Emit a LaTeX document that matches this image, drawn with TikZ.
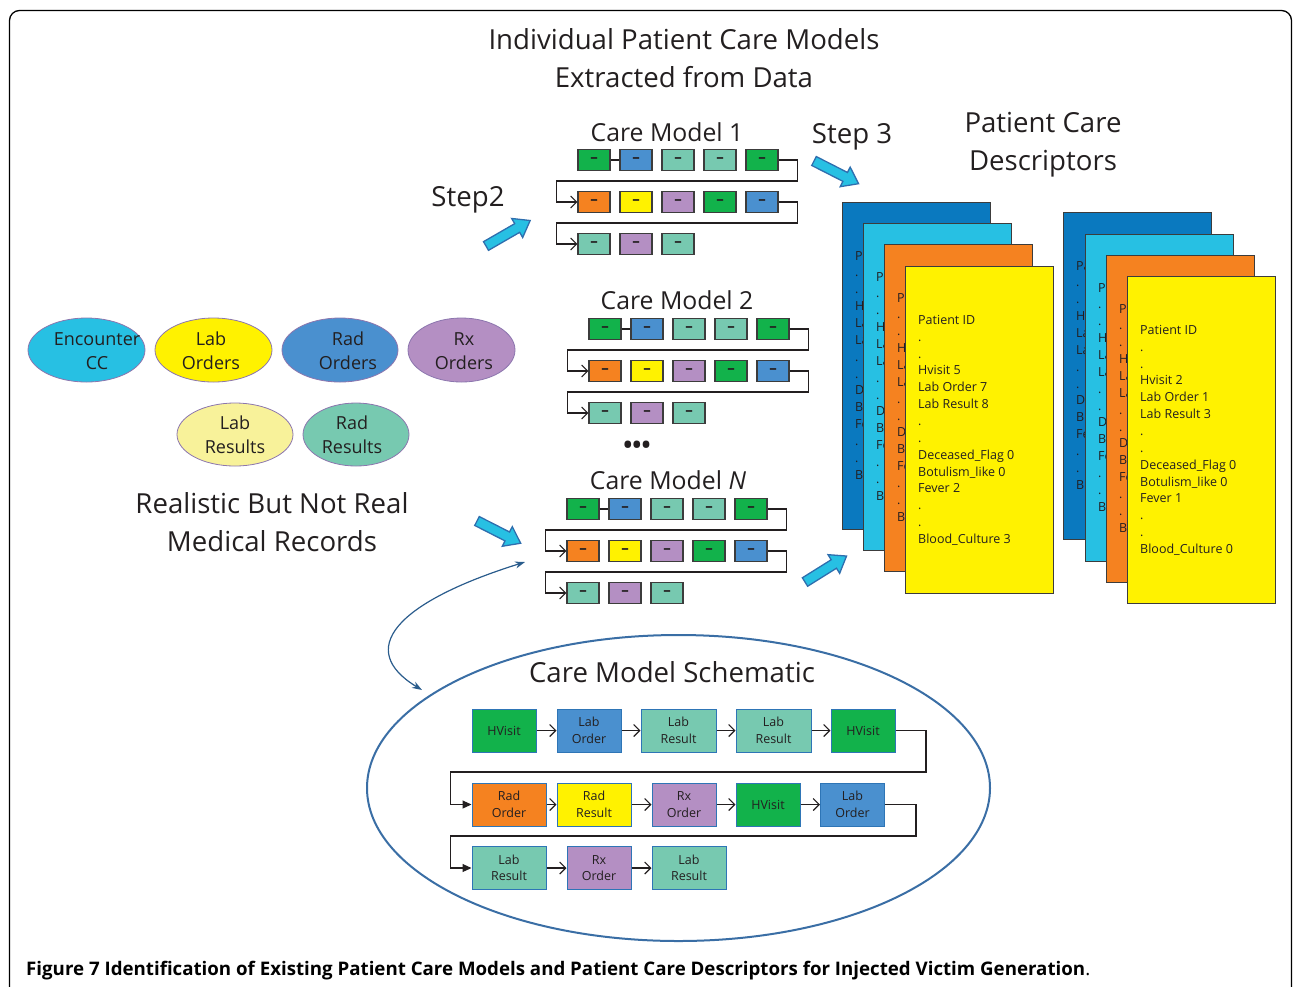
\documentclass[tikz,border=0pt]{standalone}
\usepackage{fontspec}
\setmainfont{Open Sans}
\usetikzlibrary{arrows.meta,shapes.geometric,calc}

\definecolor{cgreen}{HTML}{12B24B}
\definecolor{cblue}{HTML}{4A90CF}
\definecolor{cteal}{HTML}{77C9B0}
\definecolor{corange}{HTML}{F58220}
\definecolor{cyellow}{HTML}{FFF200}
\definecolor{cpurple}{HTML}{B48FC3}
\definecolor{ccyan}{HTML}{27C0E3}
\definecolor{cdeep}{HTML}{0A79BF}
\definecolor{clemon}{HTML}{F8F29A}
\definecolor{cink}{HTML}{231F20}
\definecolor{boxline}{HTML}{3C3C3C}
\definecolor{ovalline}{HTML}{8C76AE}
\definecolor{schemline}{HTML}{3A6EA5}
\definecolor{sboxline}{HTML}{2E75B6}
\definecolor{bigarrowline}{HTML}{2F6EAE}
\definecolor{curveline}{HTML}{2A5C8C}

\tikzset{
  heading/.style={text=cink, align=center, inner sep=0pt, font=\fontsize{27.6}{38}\selectfont},
  modeltitle/.style={text=cink, inner sep=0pt, font=\fontsize{24.8}{28}\selectfont},
  modelbox/.style={draw=boxline, line width=1.1pt, minimum width=32pt, minimum height=21pt,
    inner sep=0pt, font=\bfseries\fontsize{15}{15}\selectfont, text=cink},
  flow/.style={draw=cink, line width=1.1pt},
  barb/.style={-{Straight Barb[length=6pt,width=12pt,line width=1.1pt]}},
  solidtip/.style={-{Triangle[length=9pt,width=8pt]}},
  oval/.style={ellipse, draw=ovalline, line width=0.8pt, inner sep=0pt},
  ovaltext/.style={text=cink, align=center, inner sep=0pt, font=\fontsize{18}{24}\selectfont},
  card/.style={draw=boxline, line width=1.3pt, minimum width=148pt, minimum height=327pt, inner sep=0pt},
  cardtext/.style={text=cink, align=left, inner sep=0pt, font=\fontsize{12.5}{16.85}\selectfont},
  sbox/.style={draw=sboxline, line width=1pt, minimum height=43pt, inner sep=0pt, align=center,
    text=cink, font=\fontsize{12.5}{16.5}\selectfont},
  bigarrow/.style={draw=bigarrowline, line width=1.3pt, fill=ccyan, line join=miter},
}

% one extracted care model: prefix, left edge of first box, centre of first row
\newcommand\drawcaremodel[3]{%
  \foreach \c [count=\i] in {cgreen,cblue,cteal,cteal,cgreen}
    \node[modelbox, fill=\c] (#1r1c\i) at ({#2+16+42*(\i-1)}, #3) {–};
  \foreach \c [count=\i] in {corange,cyellow,cpurple,cgreen,cblue}
    \node[modelbox, fill=\c] (#1r2c\i) at ({#2+16+42*(\i-1)}, {#3+42}) {–};
  \foreach \c [count=\i] in {cteal,cpurple,cteal}
    \node[modelbox, fill=\c] (#1r3c\i) at ({#2+16+42*(\i-1)}, {#3+84}) {–};
  \draw[flow] (#1r1c1) -- (#1r1c2);
  \draw[flow, barb] (#1r1c5.east) -- ++(19,0) -- ++(0,21) -| ([xshift=-21pt]#1r2c1.west) -- (#1r2c1.west);
  \draw[flow, barb] (#1r2c5.east) -- ++(19,0) -- ++(0,21) -| ([xshift=-21pt]#1r3c1.west) -- (#1r3c1.west);
}

% fat block arrow: name, tail centre, screen angle, length
\newcommand\blockarrow[4]{%
  \coordinate (#1) at #2;
  \begin{scope}[shift={(#1)}, rotate=#3]
    \draw[bigarrow] (0,-5) -- ({#4-15},-5) -- ({#4-15},-11) -- (#4,0) -- ({#4-15},11) -- ({#4-15},5) -- (0,5) -- cycle;
  \end{scope}
}

% full descriptor text of the front card
\newcommand\cardlines[7]{Patient ID\\.\\.\\Hvisit #1\\Lab Order #2\\Lab Result #3\\.\\.\\Deceased\_Flag #4\\Botulism\_like #5\\Fever #6\\.\\.\\Blood\_Culture #7}
% the part of a stacked card's text that shows beside the card on top of it
\newcommand\cardedge{Pa\\.\\.\\Hv\\La\\La\\.\\.\\De\\Bo\\Fe\\.\\.\\Bl}

% descriptor card: name, left, top, colour, contents
\newcommand\descard[5]{%
  \node[card, fill=#4, anchor=north west] (#1) at (#2,#3) {};
  \node[cardtext, anchor=north west] (#1t) at ({#2+13},{#3+49}) {#5};
}

\begin{document}
\begin{tikzpicture}[x=1pt, y=-1pt]
\useasboundingbox (0,0) rectangle (1293,986);

% frame
\draw[line width=1.3pt, rounded corners=10pt] (9.5,10.5) rectangle (1291.5,1010);

% headings
\node[heading] (title) at (684,58) {Individual Patient Care Models\\Extracted from Data};
\node[heading] (descr) at (1043,145) {Patient Care\\Descriptors};
\node[heading] (step2) at (468,200) {Step2};
\node[heading] (step3) at (852,137) {Step 3};
\node[heading] (records) at (272,522) {Realistic But Not Real\\Medical Records};

% source record types
\node[oval, fill=ccyan, minimum width=117pt, minimum height=64pt] (enc) at (86.5,350) {};
\node[ovaltext] (enct) at (97,351) {Encounter\\CC};
\node[oval, fill=cyellow, minimum width=117pt, minimum height=64pt] (labo) at (213.5,350) {};
\node[ovaltext] (labot) at (211,351) {Lab\\Orders};
\node[oval, fill=cblue, minimum width=116pt, minimum height=64pt] (rado) at (340,350) {};
\node[ovaltext] (radot) at (348,351) {Rad\\Orders};
\node[oval, fill=cpurple, minimum width=107pt, minimum height=64pt] (rxo) at (461.5,350) {};
\node[ovaltext] (rxot) at (464,351) {Rx\\Orders};
\node[oval, fill=clemon, minimum width=116pt, minimum height=63pt] (labr) at (235,434.5) {};
\node[ovaltext] (labrt) at (235,435) {Lab\\Results};
\node[oval, fill=cteal, minimum width=106pt, minimum height=63pt] (radr) at (356,434.5) {};
\node[ovaltext] (radrt) at (352,435) {Rad\\Results};

% extracted care models
\node[modeltitle] (cm1) at (667,132) {Care Model 1};
\drawcaremodel{ma}{578}{160}
\node[modeltitle] (cm2) at (677,300) {Care Model 2};
\drawcaremodel{mb}{589}{329}
\node[text=cink, inner sep=0pt, font=\bfseries\fontsize{24}{24}\selectfont] (more) at (637,447) {•••};
\node[modeltitle] (cmn) at (668,480) {Care Model \textit{N}};
\drawcaremodel{mn}{567}{509}

% step arrows
\blockarrow{aStep2}{(486,246)}{30}{51}
\blockarrow{aStep3}{(814,161)}{-27}{50}
\blockarrow{aRecords}{(477,521)}{-27}{49}
\blockarrow{aCards}{(805,582)}{32}{49}

% patient care descriptor cards
\descard{s1a}{842}{202}{cdeep}{\cardedge}
\descard{s1b}{863}{223}{ccyan}{\cardedge}
\descard{s1c}{884}{244}{corange}{\cardedge}
\descard{s1d}{905}{266}{cyellow}{\cardlines{5}{7}{8}{0}{0}{2}{3}}
\descard{s2a}{1063}{212}{cdeep}{\cardedge}
\descard{s2b}{1085}{234}{ccyan}{\cardedge}
\descard{s2c}{1106}{255}{corange}{\cardedge}
\descard{s2d}{1127}{276}{cyellow}{\cardlines{2}{1}{3}{0}{0}{1}{0}}

% schematic of one care model
\node[ellipse, draw=schemline, line width=2pt, minimum width=623pt, minimum height=306pt, inner sep=0pt] (schem) at (678.5,788) {};
\node[heading] (schemtitle) at (672,672) {Care Model Schematic};

\node[sbox, fill=cgreen,  minimum width=64pt] (s1) at (504,730.5) {HVisit};
\node[sbox, fill=cblue,   minimum width=64pt] (s2) at (589,730.5) {Lab\\Order};
\node[sbox, fill=cteal,   minimum width=75pt] (s3) at (678.5,730.5) {Lab\\Result};
\node[sbox, fill=cteal,   minimum width=75pt] (s4) at (773.5,730.5) {Lab\\Result};
\node[sbox, fill=cgreen,  minimum width=64pt] (s5) at (863,730.5) {HVisit};
\node[sbox, fill=corange, minimum width=74pt] (s6) at (509,804.5) {Rad\\Order};
\node[sbox, fill=cyellow, minimum width=74pt] (s7) at (594,804.5) {Rad\\Result};
\node[sbox, fill=cpurple, minimum width=64pt] (s8) at (684,804.5) {Rx\\Order};
\node[sbox, fill=cgreen,  minimum width=64pt] (s9) at (768,804.5) {HVisit};
\node[sbox, fill=cblue,   minimum width=64pt] (s10) at (852.5,804.5) {Lab\\Order};
\node[sbox, fill=cteal,   minimum width=74pt] (s11) at (509,868) {Lab\\Result};
\node[sbox, fill=cpurple, minimum width=64pt] (s12) at (599,868) {Rx\\Order};
\node[sbox, fill=cteal,   minimum width=74pt] (s13) at (689,868) {Lab\\Result};

\foreach \a/\b in {s1/s2,s2/s3,s3/s4,s4/s5,s6/s7,s7/s8,s8/s9,s9/s10,s11/s12,s12/s13}
  \draw[flow, barb] (\a.east) -- (\b.west);
\draw[flow, solidtip] (s5.east) -- (926,730.5) -- (926,772) -| ([xshift=-21pt]s6.west) -- (s6.west);
\draw[flow, solidtip] (s10.east) -- (916,804.5) -- (916,836) -| ([xshift=-21pt]s11.west) -- (s11.west);

% link between the extracted models and the schematic
\coordinate (linkTop) at (525,562);
\coordinate (linkBottom) at (422,690);
\draw[draw=curveline, line width=1.2pt, {Stealth[length=10pt,width=7pt]}-{Stealth[length=10pt,width=7pt]}]
  (linkBottom) .. controls (356,650) and (394,603) .. (linkTop);

% caption
\node[anchor=base west, inner sep=0pt, text=black, font=\fontsize{18.7}{22}\selectfont] (caption) at (26,975)
  {\textbf{Figure 7 Identification of Existing Patient Care Models and Patient Care Descriptors for Injected Victim Generation}.};
\end{tikzpicture}
\end{document}
